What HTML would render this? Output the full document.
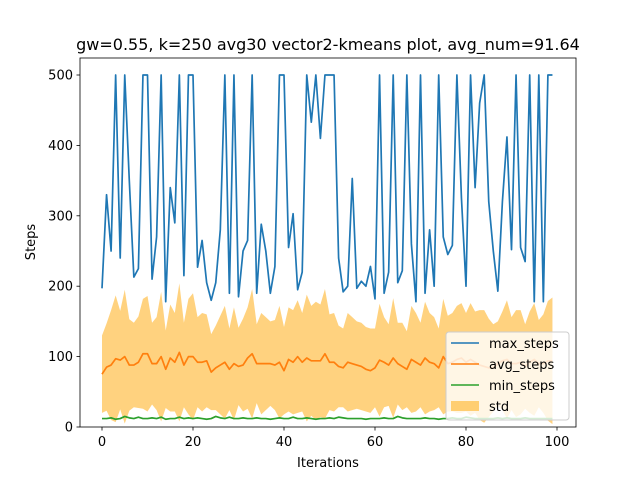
<!DOCTYPE html>
<html><head><meta charset="utf-8"><style>
body{margin:0;background:#fff}
svg text{font-family:"DejaVu Sans","Liberation Sans",sans-serif}
</style></head><body>
<svg id="chart" width="640" height="480" xmlns="http://www.w3.org/2000/svg">
<rect width="640" height="480" fill="#fff"/>
<g id="plot"></g>
</svg>
<script>
const maxSteps=[197,330,250,500,240,500,350,213,225,500,500,210,270,500,178,340,290,500,215,500,500,227,265,205,180,205,280,500,190,500,185,250,265,500,190,288,250,190,228,500,500,255,303,195,220,500,433,500,410,500,500,500,240,192,200,353,197,207,200,228,182,500,190,220,500,205,222,500,260,178,500,190,280,200,500,270,245,258,500,325,200,500,340,460,500,320,250,193,320,412,252,500,255,235,500,178,500,178,500,500];
const avgSteps=[75,85,88,97,95,100,88,88,92,104,104,90,90,100,82,98,92,106,88,100,100,92,92,94,78,84,88,92,82,90,86,88,98,104,90,90,90,90,88,92,80,96,92,100,92,98,94,94,94,104,92,92,86,84,92,90,88,86,82,80,84,95,92,88,98,90,86,82,96,92,88,98,92,90,84,100,90,92,96,98,92,96,92,88,86,84,84,90,94,96,90,90,92,86,92,96,90,90,94,94];
const stdSteps=[55,62,78,90,70,95,65,60,65,78,82,58,66,92,55,76,70,98,60,82,90,64,70,66,54,60,70,80,58,80,55,66,72,92,56,72,66,60,64,80,62,74,74,80,70,90,78,84,80,92,68,70,58,56,70,66,62,62,60,60,56,80,64,58,85,58,62,54,76,70,60,80,70,66,56,82,68,70,76,78,70,80,72,78,80,70,62,60,70,84,66,76,74,60,72,80,62,70,85,90];
const minSteps=[12,12,13,11,12,15,13,12,14,12,12,13,12,14,11,12,12,14,12,13,12,13,12,11,12,15,13,12,14,12,12,13,12,12,13,12,12,11,12,13,12,12,14,12,12,13,12,11,12,12,13,12,14,13,12,12,12,12,11,12,12,12,13,12,12,15,13,12,12,12,12,13,12,12,11,12,12,13,12,12,14,13,12,12,12,12,12,13,12,13,12,12,12,13,12,12,12,12,12,12];
const xTicks=[0,20,40,60,80,100];
const yTicks=[0,100,200,300,400,500];
const L=80,R=576,T=58,B=427;
const X=v=>102+v*4.55, Y=v=>427-v*0.704;
const NS="http://www.w3.org/2000/svg";
const g=document.getElementById('plot');
function mk(t,a,p){const e=document.createElementNS(NS,t);for(const k in a)e.setAttribute(k,a[k]);(p||g).appendChild(e);return e;}
let up=avgSteps.map((a,i)=>X(i)+','+Y(a+stdSteps[i]));
let lo=avgSteps.map((a,i)=>X(i)+','+Y(Math.max(0,a-stdSteps[i]))).reverse();
let band=mk('polygon',{points:up.concat(lo).join(' '),fill:'#ffa500','fill-opacity':0.5});


function line(arr,col,name){const e=mk('polyline',{points:arr.map((v,i)=>X(i)+','+Y(v)).join(' '),fill:'none',stroke:col,'stroke-width':1.7,'stroke-linejoin':'round'});

}
line(maxSteps,'#1f77b4','max-steps-line');
line(avgSteps,'#ff7f0e','avg-steps-line');
line(minSteps,'#2ca02c','min-steps-line');
const frame=mk('rect',{x:L,y:T,width:R-L,height:B-T,fill:'none',stroke:'#000','stroke-width':0.8});


xTicks.forEach(t=>{mk('line',{x1:X(t),x2:X(t),y1:B,y2:B+3.5,stroke:'#000','stroke-width':0.8});
const tx=mk('text',{x:X(t),y:B+19,'text-anchor':'middle','font-size':13});tx.textContent=t;

});
yTicks.forEach(t=>{mk('line',{x1:L-3.5,x2:L,y1:Y(t),y2:Y(t),stroke:'#000','stroke-width':0.8});
const tx=mk('text',{x:L-7,y:Y(t)+4.5,'text-anchor':'end','font-size':13});tx.textContent=t;

});
</script>
<svg style="position:absolute;left:0;top:0" width="640" height="480">
<text x="328" y="50" text-anchor="middle" font-size="16">gw=0.55, k=250 avg30 vector2-kmeans plot, avg_num=91.64</text>
<text x="328" y="467" text-anchor="middle" font-size="13">Iterations</text>
<text transform="translate(35,242) rotate(-90)" text-anchor="middle" font-size="13">Steps</text>
<g>
<rect x="446" y="332" width="123" height="88" rx="3" fill="#fff" fill-opacity="0.8" stroke="#ccc"/>
<line x1="451" x2="479" y1="343" y2="343" stroke="#1f77b4" stroke-width="1.5"/>
<text x="489" y="348" font-size="13">max_steps</text>
<line x1="451" x2="479" y1="364" y2="364" stroke="#ff7f0e" stroke-width="1.5"/>
<text x="489" y="369" font-size="13">avg_steps</text>
<line x1="451" x2="479" y1="385" y2="385" stroke="#2ca02c" stroke-width="1.5"/>
<text x="489" y="390" font-size="13">min_steps</text>
<rect x="451" y="401" width="28" height="10" fill="#ffa500" fill-opacity="0.5"/>
<text x="489" y="411" font-size="13">std</text>
</g>
</svg>
</body></html>
